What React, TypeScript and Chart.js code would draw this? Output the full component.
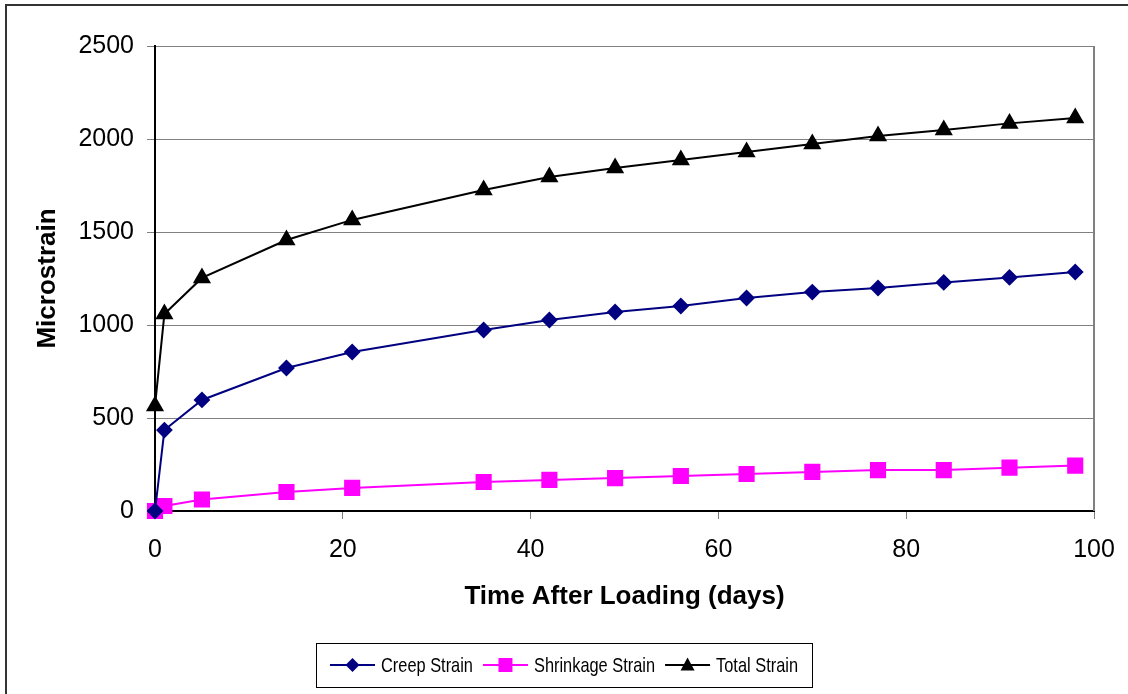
import React, { useEffect, useRef } from 'react';
import { Chart, registerables } from 'chart.js';

Chart.register(...registerables);

const days = [0, 1, 5, 14, 21, 35, 42, 49, 56, 63, 70, 77, 84, 91, 98];
const creepStrain = [0, 435, 597, 769, 855, 973, 1027, 1070, 1102, 1145, 1177, 1199, 1229, 1256, 1285];
const shrinkageStrain = [0, 27, 62, 102, 124, 156, 167, 177, 188, 199, 210, 220, 220, 233, 244];
const totalStrain = [565, 1059, 1253, 1457, 1565, 1726, 1796, 1844, 1887, 1930, 1973, 2016, 2048, 2084, 2113];
const seriesNames = ['Creep Strain', 'Shrinkage Strain', 'Total Strain'];
const yAxisTitle = 'Microstrain';
const xAxisTitle = 'Time After Loading (days)';

const FONT = "'Liberation Sans', Arial, sans-serif";

function drawMarker(ctx: CanvasRenderingContext2D, style: string, x: number, y: number, color: string) {
  ctx.save();
  ctx.fillStyle = color;
  ctx.beginPath();
  if (style === 'rectRot') {
    const r = 7;
    ctx.moveTo(x - r, y);
    ctx.lineTo(x, y - r);
    ctx.lineTo(x + r, y);
    ctx.lineTo(x, y + r);
  } else if (style === 'rect') {
    const s = 7;
    ctx.rect(x - s, y - s, 2 * s, 2 * s);
  } else {
    const h = 13;
    const w = 14;
    ctx.moveTo(x, y - h / 2 - 1);
    ctx.lineTo(x + w / 2, y + h / 2 - 1);
    ctx.lineTo(x - w / 2, y + h / 2 - 1);
  }
  ctx.closePath();
  ctx.fill();
  ctx.restore();
}

const framePlugin = {
  id: 'frame',
  beforeDraw(chart: any) {
    const ctx = chart.ctx;
    ctx.save();
    ctx.fillStyle = '#ffffff';
    ctx.fillRect(0, 0, chart.width, chart.height);
    ctx.strokeStyle = '#333333';
    ctx.lineWidth = 2;
    ctx.beginPath();
    ctx.moveTo(6, chart.height);
    ctx.lineTo(6, 5);
    ctx.lineTo(chart.width, 5);
    ctx.stroke();
    ctx.restore();
  },
  beforeDatasetsDraw(chart: any) {
    const ctx = chart.ctx;
    const a = chart.chartArea;
    ctx.save();
    ctx.strokeStyle = '#808080';
    ctx.lineWidth = 2;
    ctx.beginPath();
    ctx.moveTo(a.right, a.top);
    ctx.lineTo(a.right, a.bottom);
    ctx.stroke();
    ctx.restore();
  },
  afterDraw(chart: any) {
    const ctx = chart.ctx;
    const box = { x: 316, y: 643, w: 496, h: 44 };
    ctx.save();
    ctx.strokeStyle = '#000000';
    ctx.lineWidth = 1;
    ctx.strokeRect(box.x + 0.5, box.y + 0.5, box.w, box.h);
    const squeeze = 0.78;
    ctx.font = `21px ${FONT}`;
    const lineLen = 45;
    const gap = 6;
    const itemGap = 10;
    const items = chart.data.datasets.map((ds: any) => ({
      label: ds.label,
      color: ds.borderColor,
      style: ds.pointStyle,
      tw: ctx.measureText(ds.label).width * squeeze,
    }));
    const total = items.reduce((s: number, it: any) => s + lineLen + gap + it.tw, 0) + itemGap * (items.length - 1);
    let x = box.x + (box.w - total) / 2;
    const cy = box.y + box.h / 2;
    for (const it of items) {
      ctx.strokeStyle = it.color;
      ctx.lineWidth = 2;
      ctx.beginPath();
      ctx.moveTo(x, cy);
      ctx.lineTo(x + lineLen, cy);
      ctx.stroke();
      drawMarker(ctx, it.style, x + lineLen / 2, cy, it.color);
      x += lineLen + gap;
      ctx.save();
      ctx.translate(x, cy);
      ctx.scale(squeeze, 1);
      ctx.fillStyle = '#000000';
      ctx.textBaseline = 'middle';
      ctx.textAlign = 'left';
      ctx.fillText(it.label, 0, 1);
      ctx.restore();
      x += it.tw + itemGap;
    }
    ctx.restore();
  },
};

export default function App() {
  const ref = useRef<HTMLCanvasElement | null>(null);

  useEffect(() => {
    if (!ref.current) return;
    const mk = (arr: number[]) => days.map((d, i) => ({ x: d, y: arr[i] }));
    const chart = new Chart(ref.current, {
      type: 'line',
      data: {
        datasets: [
          {
            label: seriesNames[0],
            data: mk(creepStrain),
            borderColor: '#000080',
            backgroundColor: '#000080',
            pointStyle: 'rectRot',
            pointRadius: 7,
            pointHoverRadius: 7,
            borderWidth: 2,
            tension: 0,
            clip: false as any,
            order: 1,
          },
          {
            label: seriesNames[1],
            data: mk(shrinkageStrain),
            borderColor: '#FF00FF',
            backgroundColor: '#FF00FF',
            pointStyle: 'rect',
            pointRadius: 10,
            pointHoverRadius: 10,
            borderWidth: 2,
            tension: 0,
            clip: false as any,
            order: 2,
          },
          {
            label: seriesNames[2],
            data: mk(totalStrain),
            borderColor: '#000000',
            backgroundColor: '#000000',
            pointStyle: 'triangle',
            pointRadius: 8.5,
            pointHoverRadius: 8.5,
            borderWidth: 2,
            tension: 0,
            clip: false as any,
            order: 0,
          },
        ],
      },
      options: {
        animation: false,
        responsive: false,
        events: [],
        layout: { padding: { top: 46, right: 34, left: 0, bottom: 0 } },
        plugins: {
          legend: { display: false },
          tooltip: { enabled: false },
          title: { display: false },
        },
        scales: {
          x: {
            type: 'linear',
            min: 0,
            max: 100,
            afterFit: (s: any) => {
              s.height = 183;
              s.paddingLeft = 0;
              s.paddingRight = 0;
            },
            ticks: {
              stepSize: 20,
              color: '#000000',
              font: { family: FONT, size: 25 },
              padding: 16,
              maxRotation: 0,
              callback: (v: any) => String(v),
            },
            grid: {
              drawOnChartArea: false,
              drawTicks: true,
              tickLength: 8,
              tickColor: '#808080',
              tickWidth: 1,
            },
            border: { color: '#000000', width: 2 },
            title: {
              display: true,
              text: xAxisTitle,
              color: '#000000',
              font: { family: FONT, size: 26, weight: 'bold' },
              padding: { top: 0, bottom: 82 },
            },
          },
          y: {
            type: 'linear',
            min: 0,
            max: 2500,
            afterFit: (s: any) => {
              s.width = 155;
              s.paddingTop = 0;
              s.paddingBottom = 0;
            },
            ticks: {
              stepSize: 500,
              color: '#000000',
              font: { family: FONT, size: 25 },
              padding: 13,
              callback: (v: any) => String(v),
            },
            grid: {
              color: '#808080',
              lineWidth: 1,
              drawTicks: true,
              tickLength: 8,
              tickColor: '#808080',
            },
            border: { color: '#000000', width: 2 },
            title: {
              display: true,
              text: yAxisTitle,
              color: '#000000',
              font: { family: FONT, size: 26, weight: 'bold' },
              padding: { top: 32, bottom: 0 },
            },
          },
        },
      },
      plugins: [framePlugin],
    });
    return () => chart.destroy();
  }, []);

  return (
    <canvas
      ref={ref}
      width={1128}
      height={694}
      style={{ position: 'absolute', left: 0, top: 0, width: 1128, height: 694 }}
    />
  );
}
